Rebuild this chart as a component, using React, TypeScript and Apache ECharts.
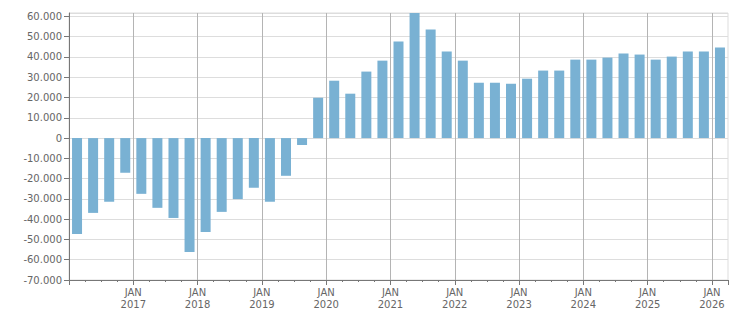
import React, { useEffect, useRef } from "react";
import * as echarts from "echarts";

const quarters: string[] = [
  "2016 Q1", "2016 Q2", "2016 Q3", "2016 Q4",
  "2017 Q1", "2017 Q2", "2017 Q3", "2017 Q4",
  "2018 Q1", "2018 Q2", "2018 Q3", "2018 Q4",
  "2019 Q1", "2019 Q2", "2019 Q3", "2019 Q4",
  "2020 Q1", "2020 Q2", "2020 Q3", "2020 Q4",
  "2021 Q1", "2021 Q2", "2021 Q3", "2021 Q4",
  "2022 Q1", "2022 Q2", "2022 Q3", "2022 Q4",
  "2023 Q1", "2023 Q2", "2023 Q3", "2023 Q4",
  "2024 Q1", "2024 Q2", "2024 Q3", "2024 Q4",
  "2025 Q1", "2025 Q2", "2025 Q3", "2025 Q4",
  "2026 Q1",
];

const values: number[] = [
  -47300, -36900, -31400, -17100,
  -27500, -34400, -39400, -56200,
  -46300, -36400, -30100, -24500,
  -31400, -18600, -3400, 19900,
  28300, 21900, 32800, 38200,
  47600, 61700, 53600, 42700,
  38200, 27300, 27300, 26800,
  29300, 33300, 33300, 38700,
  38700, 39700, 41700, 41200,
  38700, 40200, 42700, 42700,
  44700,
];

const yearLabels: string[] = ["2017", "2018", "2019", "2020", "2021", "2022", "2023", "2024", "2025", "2026"];
const monthLabel = "JAN";

const Y_MIN = -70000;
const Y_STEP = 10000;

function fmtThousands(v: number): string {
  const s = Math.round(Math.abs(v)).toString().replace(/\B(?=(\d{3})+(?!\d))/g, ".");
  return (v < 0 ? "-" : "") + s;
}

export default function App() {
  const ref = useRef<HTMLDivElement>(null);
  useEffect(() => {
    if (!ref.current) return;
    const chart = echarts.init(ref.current, undefined, { renderer: "svg" });
    const axisColor = "#777";
    const textStyle = { color: "#666", fontFamily: "DejaVu Sans", fontSize: 10 };
    chart.setOption({
      animation: false,
      backgroundColor: "#fff",
      grid: {
        left: 69,
        right: 23,
        top: 13,
        bottom: 33,
        containLabel: false,
        show: true,
        borderColor: "#dddddd",
        borderWidth: 1,
        backgroundColor: "transparent",
      },
      xAxis: [
        {
          type: "category",
          data: quarters,
          position: "bottom",
          boundaryGap: true,
          axisLine: { show: true, onZero: false, lineStyle: { color: axisColor, width: 1 } },
          axisTick: { show: true, interval: 0, length: 2, lineStyle: { color: axisColor } },
          axisLabel: { show: false },
          splitLine: { show: false },
        },
        {
          type: "value",
          position: "bottom",
          min: 0,
          max: quarters.length,
          interval: 4,
          axisLine: { show: false, onZero: false },
          axisTick: { show: true, length: 5, lineStyle: { color: axisColor } },
          axisLabel: {
            show: true,
            margin: 6,
            ...textStyle,
            lineHeight: 12,
            align: "center",
            formatter: (v: number) => {
              const i = v / 4 - 1;
              return Number.isInteger(i) && i >= 0 && i < yearLabels.length
                ? monthLabel + "\n" + yearLabels[i]
                : "";
            },
          },
          splitLine: {
            show: true,
            showMinLine: false,
            showMaxLine: false,
            lineStyle: { color: "#b4b4b4", width: 1 },
          },
        },
      ],
      yAxis: {
        type: "value",
        min: Y_MIN,
        max: Math.max(...values),
        interval: Y_STEP,
        axisLine: { show: true, onZero: false, lineStyle: { color: axisColor, width: 1 } },
        axisTick: { show: true, length: 5, lineStyle: { color: axisColor } },
        axisLabel: {
          show: true,
          margin: 7,
          ...textStyle,
          showMaxLabel: false,
          formatter: (v: number) => fmtThousands(v),
        },
        splitLine: { show: true, lineStyle: { color: "#dddddd", width: 1 } },
      },
      series: [
        {
          type: "bar",
          xAxisIndex: 0,
          yAxisIndex: 0,
          data: values,
          barWidth: 10,
          itemStyle: { color: "#79b1d3" },
        },
      ],
    });
    return () => chart.dispose();
  }, []);
  return (
    <div
      ref={ref}
      style={{ position: "fixed", left: 0, top: 0, width: 751, height: 313, background: "#fff" }}
    />
  );
}
